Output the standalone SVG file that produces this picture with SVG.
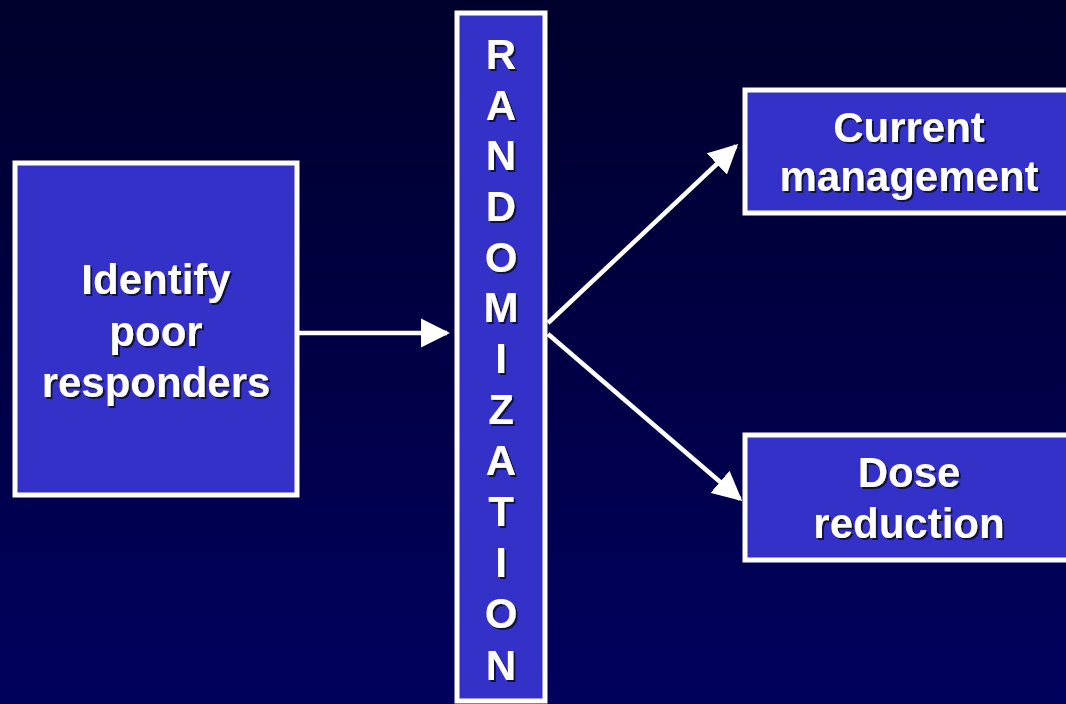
<svg xmlns="http://www.w3.org/2000/svg" width="1066" height="704" viewBox="0 0 1066 704">
  <defs>
    <linearGradient id="bg" x1="0" y1="0" x2="0" y2="1">
      <stop offset="0" stop-color="#00002c"/>
      <stop offset="1" stop-color="#00005e"/>
    </linearGradient>
    <filter id="sh" x="-10%" y="-10%" width="130%" height="130%">
      <feDropShadow dx="2" dy="2" stdDeviation="0.6" flood-color="#0a0a30" flood-opacity="0.9"/>
    </filter>
    <marker id="ah" viewBox="0 0 10 10" refX="9" refY="5" markerWidth="6.5" markerHeight="6.5" markerUnits="strokeWidth" orient="auto">
      <path d="M0,0 L10,5 L0,10 Z" fill="#ffffff"/>
    </marker>
    <style>
      .box { fill: #3431c9; stroke: #ffffff; stroke-width: 5; }
      .lbl { font-family: "Liberation Sans", Arial, sans-serif; font-weight: bold; font-size: 42px; fill: #ffffff; text-anchor: middle; filter: url(#sh); }
      .conn { stroke: #ffffff; stroke-width: 4.5; fill: none; marker-end: url(#ah); }
    </style>
  </defs>
  <rect x="0" y="0" width="1066" height="704" fill="url(#bg)"/>

  <g id="identify">
    <rect class="box" x="15" y="163" width="282" height="332"/>
    <text class="lbl" x="156" y="294">Identify</text>
    <text class="lbl" x="156" y="346">poor</text>
    <text class="lbl" x="156" y="397">responders</text>
  </g>

  <g id="randomization">
    <rect class="box" x="457" y="13" width="88" height="688"/>
    <text class="lbl" x="501" y="69">R</text>
    <text class="lbl" x="501" y="120">A</text>
    <text class="lbl" x="501" y="170">N</text>
    <text class="lbl" x="501" y="221">D</text>
    <text class="lbl" x="501" y="272">O</text>
    <text class="lbl" x="501" y="322">M</text>
    <text class="lbl" x="501" y="373">I</text>
    <text class="lbl" x="501" y="424">Z</text>
    <text class="lbl" x="501" y="475">A</text>
    <text class="lbl" x="501" y="526">T</text>
    <text class="lbl" x="501" y="577">I</text>
    <text class="lbl" x="501" y="628">O</text>
    <text class="lbl" x="501" y="680">N</text>
  </g>

  <g id="current">
    <rect class="box" x="745" y="90" width="330" height="123"/>
    <text class="lbl" x="909" y="142">Current</text>
    <text class="lbl" x="909" y="191">management</text>
  </g>

  <g id="dose">
    <rect class="box" x="745" y="435" width="330" height="125"/>
    <text class="lbl" x="909" y="487">Dose</text>
    <text class="lbl" x="909" y="538">reduction</text>
  </g>

  <g id="connectors">
    <line class="conn" x1="299" y1="333" x2="447" y2="333"/>
    <line class="conn" x1="548" y1="323" x2="736" y2="146"/>
    <line class="conn" x1="548" y1="334" x2="740" y2="499"/>
  </g>
</svg>
